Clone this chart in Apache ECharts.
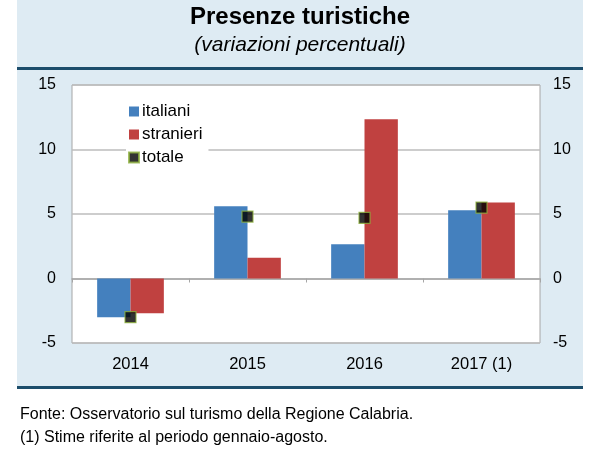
<!DOCTYPE html>
<html><head><meta charset="utf-8">
<script src="https://cdn.jsdelivr.net/npm/echarts@6/dist/echarts.min.js"></script>
<style>html,body{margin:0;padding:0;background:#fff}#c{width:600px;height:459px}</style>
</head><body><div id="c"></div>
<script>
const categories = ['2014', '2015', '2016', '2017 (1)'];
const italiani = [-3.0, 5.6, 2.65, 5.3];
const stranieri = [-2.7, 1.6, 12.35, 5.9];
const totale = [-3.0, 4.8, 4.7, 5.5];
const yTicks = [-5, 0, 5, 10, 15];

const FONT = '"Liberation Sans", Arial, sans-serif';
const chart = echarts.init(document.getElementById('c'), null, {renderer: 'canvas'});
chart.setOption({
  backgroundColor: '#ffffff',
  animation: false,
  textStyle: {fontFamily: FONT},
  title: [
    {text: 'Presenze turistiche', left: 'center', top: 0,
     textStyle: {fontFamily: FONT, fontSize: 24, fontWeight: 'bold', color: '#000'}},
    {text: '(variazioni percentuali)', left: 'center', top: 30,
     textStyle: {fontFamily: FONT, fontSize: 21, fontStyle: 'italic', fontWeight: 'normal', color: '#000'}}
  ],
  graphic: [
    {type: 'rect', z: -10, silent: true, shape: {x: 17, y: 0, width: 566, height: 388}, style: {fill: '#deebf3'}},
    {type: 'rect', z: -9, silent: true, shape: {x: 17, y: 67, width: 566, height: 3}, style: {fill: '#1c4d6b'}},
    {type: 'rect', z: -9, silent: true, shape: {x: 17, y: 386, width: 566, height: 3}, style: {fill: '#1c4d6b'}},
    {type: 'text', left: 20, top: 407, style: {text: 'Fonte: Osservatorio sul turismo della Regione Calabria.', font: '16px ' + FONT, fill: '#000'}},
    {type: 'text', left: 20, top: 430, style: {text: '(1) Stime riferite al periodo gennaio-agosto.', font: '16px ' + FONT, fill: '#000'}}
  ],
  legend: {
    orient: 'vertical', left: 126, top: 101, itemWidth: 10, itemHeight: 10, itemGap: 6,
    backgroundColor: '#ffffff', padding: [2, 6, 2, 2],
    textStyle: {fontFamily: FONT, fontSize: 17, color: '#000', padding: [0, 0, 0, -2]},
    data: [
      {name: 'italiani', icon: 'rect'},
      {name: 'stranieri', icon: 'rect'},
      {name: 'totale', icon: 'rect'}
    ]
  },
  grid: {left: 72, right: 60, top: 85, bottom: 116, show: true, backgroundColor: '#ffffff', borderColor: '#a6a6a6', borderWidth: 1},
  xAxis: [
    {type: 'category', data: categories, position: 'bottom',
     axisLine: {onZero: true, lineStyle: {color: '#a6a6a6', width: 1.5}},
     axisTick: {show: true, length: 4, lineStyle: {color: '#a6a6a6'}},
     axisLabel: {show: false}},
    {type: 'category', data: categories, position: 'bottom',
     axisLine: {show: false, onZero: false}, axisTick: {show: false},
     axisLabel: {show: true, margin: 13, fontFamily: FONT, fontSize: 16.5, color: '#000'}}
  ],
  yAxis: [
    {type: 'value', min: -5, max: 15, interval: 5, position: 'left',
     axisLine: {show: false}, axisTick: {show: false},
     splitLine: {show: true, lineStyle: {color: '#bdbdbd', width: 1.5}},
     axisLabel: {margin: 16, fontFamily: FONT, fontSize: 16, color: '#000'}},
    {type: 'value', min: -5, max: 15, interval: 5, position: 'right',
     axisLine: {show: false}, axisTick: {show: false}, splitLine: {show: false},
     axisLabel: {margin: 13, fontFamily: FONT, fontSize: 16, color: '#000'}}
  ],
  series: [
    {name: 'italiani', type: 'bar', data: italiani, barGap: '0%', barCategoryGap: '43%',
     itemStyle: {color: '#4480be'}},
    {name: 'stranieri', type: 'bar', data: stranieri, barGap: '0%', barCategoryGap: '43%',
     itemStyle: {color: '#c04140'}},
    {name: 'totale', type: 'scatter', data: totale, symbol: 'rect', symbolSize: 11, z: 5,
     itemStyle: {color: '#000000', borderColor: '#8db03c', borderWidth: 1.2}}
  ]
});
</script></body></html>
